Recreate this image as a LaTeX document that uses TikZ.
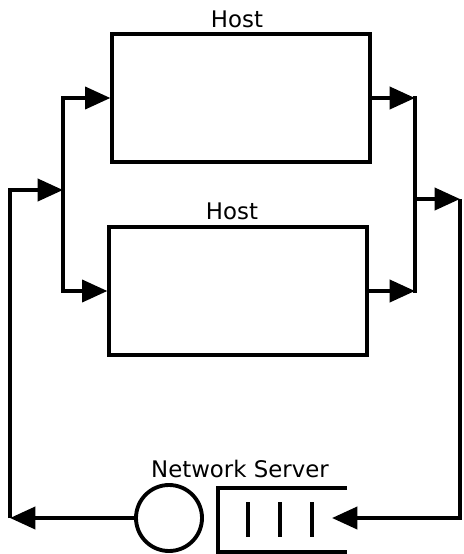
\documentclass[tikz,border=0pt]{standalone}
\usepackage{fontspec}
\setmainfont{DejaVu Sans}
\usetikzlibrary{arrows.meta, positioning}

\begin{document}
\begin{tikzpicture}[
  x=0.03cm, y=-0.03cm,
  line width=3.3pt,
  flow/.style={-{Triangle[length=0.76cm, width=0.66cm]}},
  bar/.style={line cap=rect},
  hostbox/.style={draw, rectangle, inner sep=0pt, minimum width=7.72cm, minimum height=3.82cm},
  label/.style={font=\fontsize{19.5}{22}\selectfont, anchor=base, inner sep=0pt}
]

% Page frame
\useasboundingbox (0,0) rectangle (463,554);

% ── Hosts ──
\node[hostbox] (host1) at (241,98) {};
\node[hostbox] (host2) at (238,291) {};
\node[label] (hostlbl1) at (237,27) {Host};
\node[label] (hostlbl2) at (232,219) {Host};

% ── Network server: station and queue ──
\node[draw, circle, inner sep=0pt, minimum size=1.98cm] (srv) at (169,518) {};
\node[label] (srvlbl) at (240,477) {Network Server};
\draw (347,488) -- (218,488) -- (218,552) -- (347,552);
\foreach \x in {248,280,312}
  \draw (\x,502) -- (\x,537);
\coordinate (qin) at (332,518);

% ── Junction points ──
\coordinate (lin) at (63,190);
\coordinate (rtop) at (415,98);
\coordinate (rbot) at (415,291);
\coordinate (rout) at (415,199);
\coordinate (rcorner) at (460,199);
\coordinate (retbot) at (10,518);

% ── Fork into the hosts ──
\draw[flow] (lin) |- (host1.west);
\draw[flow] (lin) |- (host2.west);

% ── Join out of the hosts ──
\draw[bar] (rtop) -- (rbot);
\draw[flow] (host1.east) -- (rtop);
\draw[flow] (host2.east) -- (rbot);
\draw[flow] (rout) -- (rcorner);

% ── Loop through the server ──
\draw[flow] (rcorner) |- (qin);
\draw[flow] (srv.west) -- (retbot);
\draw[flow] (retbot) |- (lin);

\end{tikzpicture}
\end{document}
